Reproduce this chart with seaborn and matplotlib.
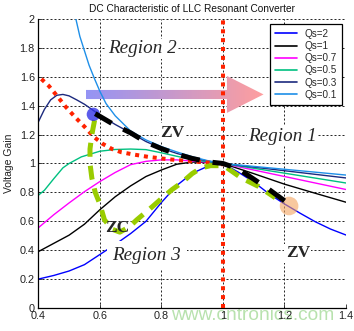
import numpy as np
import pandas as pd
import matplotlib
matplotlib.use("Agg")
import matplotlib.pyplot as plt
from matplotlib.patches import Polygon
from matplotlib.lines import Line2D
import seaborn as sns

# ---- gain curves, one per quality factor ----
qs_labels = ["Qs=2", "Qs=1", "Qs=0.7", "Qs=0.5", "Qs=0.3", "Qs=0.1"]
qs_colors = ["#0000ff", "#000000", "#ff00ff", "#00c080", "#1c2a7e", "#1e8fe8"]

fn_q2 = [0.40, 0.45, 0.50, 0.55, 0.60, 0.65, 0.70, 0.75, 0.80, 0.85, 0.90, 0.95, 1.00,
         1.05, 1.10, 1.15, 1.20, 1.25, 1.30, 1.35, 1.40]
gain_q2 = [0.200, 0.225, 0.256, 0.300, 0.370, 0.440, 0.515, 0.600, 0.730, 0.848, 0.932, 0.980, 1.000,
           0.940, 0.872, 0.790, 0.720, 0.657, 0.597, 0.546, 0.505]

fn_q1 = [0.40, 0.45, 0.50, 0.55, 0.60, 0.65, 0.70, 0.75, 0.80, 0.85, 0.90, 0.95, 1.00,
         1.10, 1.20, 1.30, 1.40]
gain_q1 = [0.390, 0.447, 0.504, 0.580, 0.680, 0.770, 0.845, 0.910, 0.955, 0.995, 1.010, 1.008, 1.000,
           0.930, 0.857, 0.794, 0.732]

fn_q07 = [0.40, 0.45, 0.50, 0.55, 0.60, 0.65, 0.70, 0.75, 0.80, 0.85, 0.90, 0.95, 1.00,
          1.10, 1.20, 1.30, 1.40]
gain_q07 = [0.555, 0.645, 0.727, 0.805, 0.875, 0.938, 0.992, 1.015, 1.025, 1.025, 1.017, 1.009, 1.000,
            0.955, 0.910, 0.865, 0.820]

fn_q05 = [0.40, 0.42, 0.45, 0.48, 0.50, 0.54, 0.60, 0.65, 0.70, 0.75, 0.80, 0.85, 0.90, 0.95, 1.00,
          1.10, 1.20, 1.30, 1.40]
gain_q05 = [0.780, 0.815, 0.894, 0.970, 1.000, 1.046, 1.085, 1.097, 1.100, 1.096, 1.074, 1.050, 1.028, 1.012, 1.000,
            0.967, 0.933, 0.899, 0.865]

fn_q03 = [0.40, 0.42, 0.44, 0.46, 0.48, 0.50, 0.525, 0.55, 0.575, 0.60, 0.65, 0.70, 0.75, 0.80, 0.85,
          0.90, 0.95, 1.00, 1.10, 1.20, 1.30, 1.40]
gain_q03 = [1.287, 1.375, 1.440, 1.472, 1.478, 1.468, 1.440, 1.410, 1.373, 1.335, 1.270, 1.212, 1.152, 1.105, 1.070,
            1.040, 1.017, 1.000, 0.975, 0.950, 0.925, 0.900]

fn_q01 = [0.52, 0.535, 0.547, 0.565, 0.582, 0.60, 0.62, 0.65, 0.70, 0.75, 0.80, 0.85, 0.90, 0.95, 1.00,
          1.10, 1.20, 1.30, 1.40]
gain_q01 = [2.020, 1.880, 1.800, 1.680, 1.590, 1.500, 1.415, 1.330, 1.225, 1.163, 1.117, 1.080, 1.047, 1.020, 1.000,
            0.980, 0.960, 0.940, 0.920]

# ---- operating-region boundaries ----
peak_fn = [0.41, 0.435, 0.46, 0.49, 0.52, 0.55, 0.58, 0.61, 0.64, 0.67, 0.71, 0.76, 0.82, 0.88, 0.94, 1.00]
peak_gain = [1.585, 1.535, 1.470, 1.390, 1.320, 1.255, 1.185, 1.135, 1.100, 1.078, 1.062, 1.045, 1.030, 1.018, 1.008, 1.000]

zv_fn = [0.585, 0.645, 0.70, 0.75, 0.80, 0.85, 0.90, 0.95, 1.00, 1.05, 1.10, 1.15, 1.222]
zv_gain = [1.345, 1.270, 1.212, 1.148, 1.103, 1.065, 1.035, 1.012, 1.000, 0.963, 0.892, 0.820, 0.708]

zc_fn = [0.583, 0.574, 0.568, 0.568, 0.574, 0.585, 0.600, 0.615, 0.640, 0.665, 0.695, 0.720, 0.770,
         0.810, 0.835, 0.866, 0.900, 0.930, 0.960, 0.990, 1.010, 1.060, 1.115, 1.170]
zc_gain = [1.300, 1.200, 1.100, 1.000, 0.900, 0.800, 0.720, 0.610, 0.545, 0.525, 0.560, 0.610, 0.700,
           0.775, 0.820, 0.867, 0.930, 0.970, 0.985, 0.985, 0.975, 0.900, 0.842, 0.763]

marker_fn = [0.579, 1.215]
marker_gain = [1.34, 0.706]

x_ticks = [0.4, 0.6, 0.8, 1.0, 1.2, 1.4]
x_tick_labels = ["0.4", "0.6", "0.8", "1", "1.2", "1.4"]
y_ticks = [0.0, 0.2, 0.4, 0.6, 0.8, 1.0, 1.2, 1.4, 1.6, 1.8, 2.0]
y_tick_labels = ["0", "0.2", "0.4", "0.6", "0.8", "1", "1.2", "1.4", "1.6", "1.8", "2"]

curves = pd.concat([
    pd.DataFrame({"fn": f, "gain": g, "curve": lab})
    for f, g, lab in zip([fn_q2, fn_q1, fn_q07, fn_q05, fn_q03, fn_q01],
                         [gain_q2, gain_q1, gain_q07, gain_q05, gain_q03, gain_q01],
                         qs_labels)
], ignore_index=True)

sns.set_style("white")
plt.rcParams["font.family"] = ["Liberation Sans", "DejaVu Sans"]

fig = plt.figure(figsize=(3.54, 3.31), dpi=100)
ax = fig.add_axes([0.1082, 0.0695, 0.8692, 0.8731])

palette = dict(zip(qs_labels, qs_colors))
sns.lineplot(data=curves, x="fn", y="gain", hue="curve", hue_order=qs_labels,
             palette=palette, estimator=None, sort=False, lw=1.0,
             legend=False, ax=ax, zorder=2)

# frequency-sweep arrow with a blue-to-pink gradient
bar_y0, bar_y1 = 1.446, 1.509
head_y0, head_y1 = 1.350, 1.606
arrow_x0, head_x0, tip_x = 0.554, 1.013, 1.132
arrow_poly = Polygon([(arrow_x0, bar_y0), (head_x0, bar_y0), (head_x0, head_y0),
                      (tip_x, (head_y0 + head_y1) / 2), (head_x0, head_y1),
                      (head_x0, bar_y1), (arrow_x0, bar_y1)],
                     closed=True, facecolor="none", edgecolor="none", transform=ax.transData)
ax.add_patch(arrow_poly)
t = np.linspace(0, 1, 256)
c_left = np.array([0.58, 0.58, 0.96])
c_right = np.array([1.0, 0.62, 0.62])
grad = (c_left[None, :] * (1 - t[:, None]) + c_right[None, :] * t[:, None])[None, :, :]
img = ax.imshow(grad, extent=[arrow_x0, tip_x, head_y0, head_y1], aspect="auto",
                zorder=1.5, interpolation="bilinear")
img.set_clip_path(arrow_poly)

# resonance line and peak-gain boundary
ax.axvline(1.0, color="#ff2200", lw=2.9, linestyle=(0, (1, 1.2)), zorder=3)
ax.plot(peak_fn, peak_gain, color="#ff2200", lw=2.9, linestyle=(0, (1, 1.2)), zorder=3)

# ZCS boundary (green) and ZVS boundary (black)
ax.plot(zc_fn, zc_gain, color="#99cc00", lw=3.6, linestyle=(0, (2.8, 1.8)), zorder=3.5)
ax.scatter(marker_fn[:1], marker_gain[:1], s=93, color=(0.2, 0.2, 0.9), alpha=0.8,
           edgecolors="none", zorder=4)
ax.scatter(marker_fn[1:], marker_gain[1:], s=180, color="#f4a460", alpha=0.6,
           edgecolors="none", zorder=4)
ax.plot(zv_fn, zv_gain, color="black", lw=3.6, linestyle=(0, (3.8, 2.6)), zorder=4.5)

# region labels
serif_it = dict(family=["Liberation Serif", "DejaVu Serif"], style="italic", fontsize=13.8)
serif_bd = dict(family=["Liberation Serif", "DejaVu Serif"], weight="bold", fontsize=12.5)
white = dict(facecolor="white", edgecolor="none", pad=1.0)
ax.text(0.737, 1.763, "Region 2", ha="center", va="baseline", bbox=white, zorder=6, **serif_it)
ax.text(1.193, 1.158, "Region 1", ha="center", va="baseline", bbox=white, zorder=6, **serif_it)
ax.text(0.753, 0.332, "Region 3", ha="center", va="baseline", zorder=6,
        bbox=dict(facecolor="white", edgecolor="none", boxstyle="square,pad=0.3"), **serif_it)
ax.text(0.836, 1.186, "ZV", ha="center", va="baseline", bbox=white, zorder=6, **serif_bd)
ax.text(1.243, 0.351, "ZV", ha="center", va="baseline", bbox=white, zorder=6, **serif_bd)
ax.text(0.656, 0.528, "ZC", ha="center", va="baseline", zorder=6, **serif_bd)

ax.set_xlim(0.4, 1.4)
ax.set_ylim(0, 2)
ax.set_xticks(x_ticks)
ax.set_xticklabels(x_tick_labels)
ax.set_yticks(y_ticks)
ax.set_yticklabels(y_tick_labels)
ax.set_xlabel("")
ax.set_ylabel("Voltage Gain", fontsize=7.5, labelpad=4, color="#222222")
ax.set_title("DC Characteristic of LLC Resonant Converter", fontsize=7.3, pad=5, color="#111111")

ax.set_axisbelow(True)
ax.grid(True, color="black", lw=0.6, linestyle=(0, (2.4, 2.4)))
ax.tick_params(direction="in", length=3, width=0.6, labelsize=7.8, pad=2.5,
               labelcolor="#222222", left=True, bottom=True)
for side in ("top", "right"):
    ax.spines[side].set_visible(False)
for side in ("left", "bottom"):
    ax.spines[side].set_color("black")
    ax.spines[side].set_linewidth(0.9)

handles = [Line2D([], [], color=c, lw=1.2) for c in qs_colors]
leg = ax.legend(handles, qs_labels, loc="upper right", bbox_to_anchor=(0.987, 0.983),
                fontsize=7.1, frameon=True, fancybox=False, edgecolor="black", framealpha=1,
                borderaxespad=0, handlelength=2.3, handletextpad=0.75, labelspacing=0.22,
                borderpad=0.5)
leg.get_frame().set_linewidth(0.9)
leg.set_zorder(7)

fig.text(0.713, 1 - 315 / 331, "www.cntronics.com", color="#b8e2ae", fontsize=13.8,
         ha="center", va="center", zorder=-1)

fig.savefig("out.png", dpi=100)
